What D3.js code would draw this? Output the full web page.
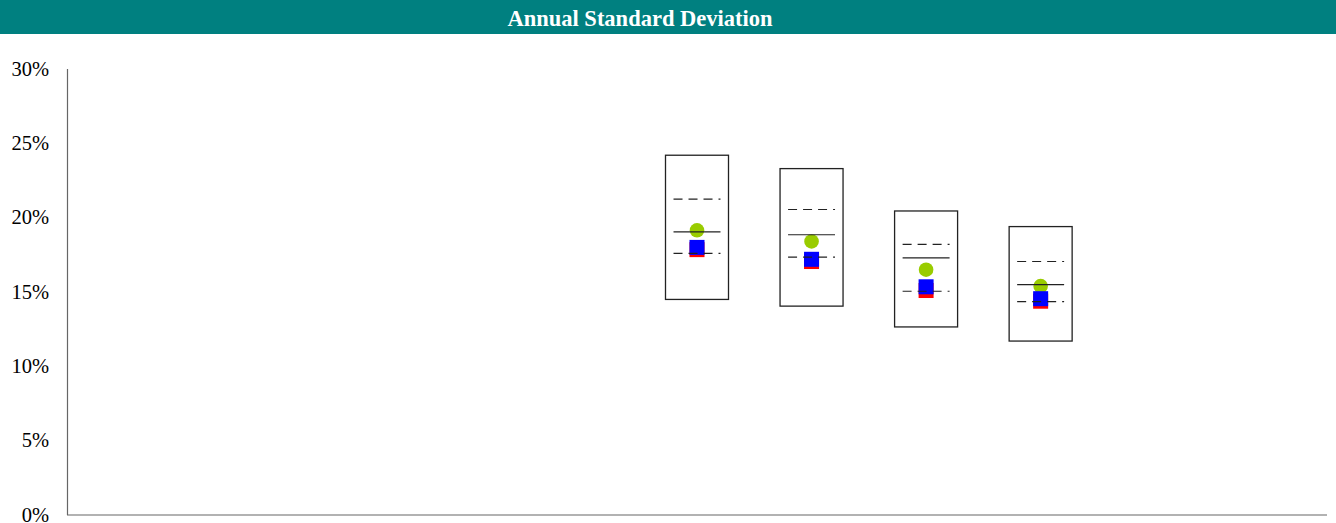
<!DOCTYPE html>
<html>
<head>
<meta charset="utf-8">
<script src="https://cdn.jsdelivr.net/npm/d3@7"></script>
<style>
  body { margin: 0; background: #fff; }
  .axis text { font-family: "Liberation Serif", "Times New Roman", serif; font-size: 20.5px; fill: #000; }
</style>
</head>
<body>
<div id="chart"></div>
<script>
// svg container
var svgWidth = 1336;
var svgHeight = 523;

// chart data (null = no value for that period)
var categories = ["1", "2", "3", "4", "5", "6", "7", "8", "9", "10", "11"];
var pct95 = [null, null, null, null, null, 24.2, 23.3, 20.45, 19.4, null, null];
var pct75 = [null, null, null, null, null, 21.25, 20.55, 18.2, 17.05, null, null];
var median = [null, null, null, null, null, 19.05, 18.85, 17.3, 15.5, null, null];
var pct25 = [null, null, null, null, null, 17.6, 17.35, 15.05, 14.35, null, null];
var pct5 = [null, null, null, null, null, 14.5, 14.05, 12.65, 11.7, null, null];
var benchmark = [null, null, null, null, null, 19.15, 18.4, 16.5, 15.4, null, null];
var fund = [null, null, null, null, null, 18.0, 17.2, 15.35, 14.55, null, null];
var fundNet = [null, null, null, null, null, 17.85, 17.05, 15.1, 14.38, null, null];
var yTicks = [0, 5, 10, 15, 20, 25, 30];
var title = "Annual Standard Deviation";

// margins
var margin = { top: 69, right: 9, bottom: 8, left: 67 };
var width = svgWidth - margin.left - margin.right;
var height = svgHeight - margin.top - margin.bottom;

var svg = d3.select("#chart").append("svg")
  .attr("width", svgWidth)
  .attr("height", svgHeight);

// title bar
svg.append("rect")
  .attr("x", 0).attr("y", 0)
  .attr("width", svgWidth).attr("height", 34)
  .attr("fill", "#008080");

svg.append("text")
  .attr("x", 640).attr("y", 25.5)
  .attr("text-anchor", "middle")
  .attr("font-family", "'Liberation Serif', 'Times New Roman', serif")
  .attr("font-weight", "bold")
  .attr("font-size", "22.5px")
  .attr("fill", "#fff")
  .text(title);

var chartGroup = svg.append("g")
  .attr("transform", `translate(${margin.left}, ${margin.top})`);

var data = categories.map(function(c, i) {
  return {
    cat: c, hi: pct95[i], q3: pct75[i], med: median[i], q1: pct25[i], lo: pct5[i],
    bench: benchmark[i], fund: fund[i], net: fundNet[i]
  };
}).filter(d => d.hi != null);

var xScale = d3.scaleBand()
  .domain(categories)
  .range([0, width]);

var yScale = d3.scaleLinear()
  .domain([0, 30])
  .range([height, 0]);

// axes
var yAxis = d3.axisLeft(yScale)
  .tickValues(yTicks)
  .tickSize(0)
  .tickPadding(18)
  .tickFormat(d => d + "%");

var yG = chartGroup.append("g").attr("class", "axis").call(yAxis);
yG.select(".domain").remove();
yG.selectAll("text").attr("dy", "0.3em");

chartGroup.append("line")
  .attr("x1", 0.5).attr("x2", 0.5)
  .attr("y1", 0).attr("y2", height)
  .attr("stroke", "#666").attr("stroke-width", 1.2);

chartGroup.append("line")
  .attr("x1", 0).attr("x2", width)
  .attr("y1", height).attr("y2", height)
  .attr("stroke", "#666").attr("stroke-width", 1.2);

var bw = xScale.bandwidth();
var boxW = bw * 0.55;
var lineW = bw * 0.41;
var cx = d => xScale(d.cat) + bw / 2;

// boxes (5th - 95th percentile)
chartGroup.selectAll(".box").data(data).enter()
  .append("rect")
  .attr("class", "box")
  .attr("x", d => cx(d) - boxW / 2)
  .attr("y", d => yScale(d.hi))
  .attr("width", boxW)
  .attr("height", d => yScale(d.lo) - yScale(d.hi))
  .attr("fill", "none")
  .attr("stroke", "#222")
  .attr("stroke-width", 1.3);

var sq = 15;

// markers
chartGroup.selectAll(".net").data(data).enter()
  .append("rect")
  .attr("x", d => cx(d) - sq / 2)
  .attr("y", d => yScale(d.net) - sq / 2)
  .attr("width", sq).attr("height", sq)
  .attr("fill", "#ff0000");

chartGroup.selectAll(".bench").data(data).enter()
  .append("circle")
  .attr("cx", d => cx(d))
  .attr("cy", d => yScale(d.bench))
  .attr("r", 7.3)
  .attr("fill", "#99cc00");

chartGroup.selectAll(".fund").data(data).enter()
  .append("rect")
  .attr("x", d => cx(d) - sq / 2)
  .attr("y", d => yScale(d.fund) - sq / 2)
  .attr("width", sq).attr("height", sq)
  .attr("fill", "#0000ff");

// quartile + median lines
function drawLine(key, dashed) {
  chartGroup.selectAll(".l-" + key).data(data).enter()
    .append("line")
    .attr("x1", d => cx(d) - lineW / 2)
    .attr("x2", d => cx(d) + lineW / 2)
    .attr("y1", d => yScale(d[key]))
    .attr("y2", d => yScale(d[key]))
    .attr("stroke", "#222")
    .attr("stroke-width", 1.2)
    .attr("stroke-dasharray", dashed ? "9,6" : null);
}
drawLine("q3", true);
drawLine("med", false);
drawLine("q1", true);
</script>
</body>
</html>
